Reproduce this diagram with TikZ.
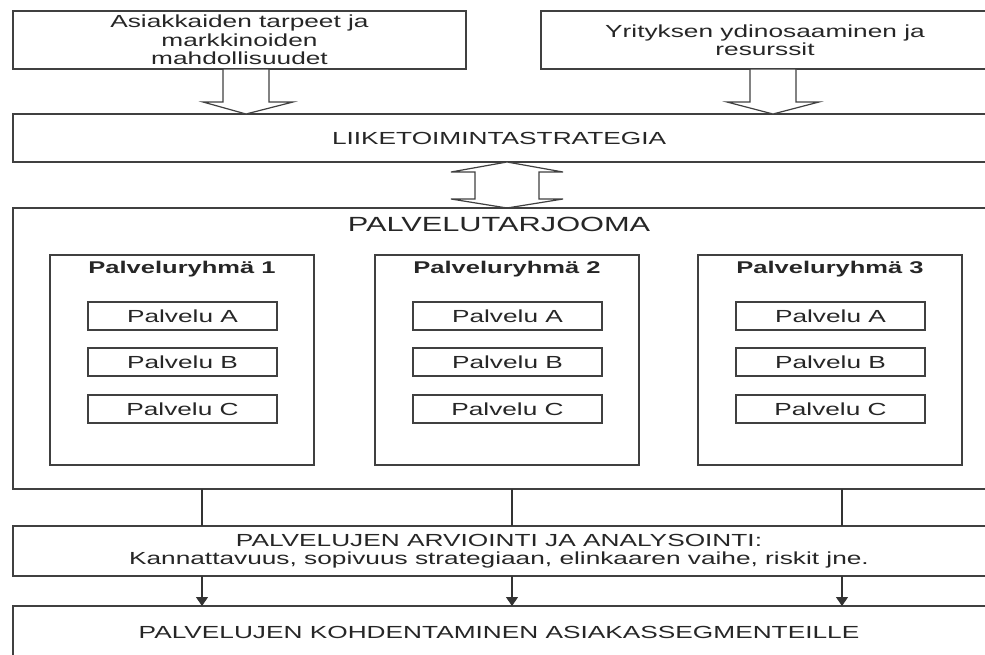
\documentclass[tikz,border=0pt]{standalone}
\usepackage{fontspec}
\setmainfont{Liberation Sans}[FakeStretch=1.5]
\usetikzlibrary{arrows.meta}
\begin{document}
\begin{tikzpicture}[x=1pt,y=-1pt,
  line width=1.2pt,
  every node/.style={inner sep=0pt,outer sep=0pt,text=black!85},
  box/.style={draw=black!75,anchor=north west,align=center},
  txt/.style={font=\fontsize{17.5}{18.5}\selectfont,align=center},
  big/.style={font=\fontsize{20.5}{22}\selectfont},
  gtitle/.style={font=\fontsize{17}{18}\selectfont\bfseries},
  blockarrow/.style={draw=black!75,fill=white,line join=miter},
  link/.style={draw=black!80},
  flow/.style={draw=black!80,-{Triangle[length=9pt,width=12pt]}}]

\useasboundingbox (0,0) rectangle (985,654);
\clip (0,0) rectangle (985,654);

% --- top: inputs ---------------------------------------------------
\node[box,minimum width=453pt,minimum height=58pt] (needs) at (13,11) {};
\node[txt] at (needs.center) {Asiakkaiden tarpeet ja\\markkinoiden\\mahdollisuudet};

\node[box,minimum width=448pt,minimum height=58pt] (core) at (541,11) {};
\node[txt] at (core.center) {Yrityksen ydinosaaminen ja\\resurssit};

% --- strategy --------------------------------------------------------
\node[box,minimum width=975pt,minimum height=48pt] (strat) at (13,114) {};
\node[txt] at (499,138) {LIIKETOIMINTASTRATEGIA};

% hollow arrows into the strategy
\draw[blockarrow] (223,69) -- (269,69) -- (269,102) -- (293,102) -- (246,114)
  -- (203,102) -- (223,102) -- cycle;
\draw[blockarrow] (750,69) -- (796,69) -- (796,102) -- (819,102) -- (773,114)
  -- (727,102) -- (750,102) -- cycle;

% double hollow arrow between strategy and offering
\draw[blockarrow] (507,162) -- (563,172) -- (539,172) -- (539,199) -- (563,199)
  -- (507,208) -- (451,199) -- (475,199) -- (475,172) -- (451,172) -- cycle;

% --- service offering -----------------------------------------------
\node[box,minimum width=975pt,minimum height=281pt] (offer) at (13,208) {};
\node[big] at (499,224) {PALVELUTARJOOMA};

% service groups
\foreach \g/\gx in {1/50,2/375,3/698}{
  \node[box,minimum width=264pt,minimum height=210pt] (grp\g) at (\gx,255) {};
  \node[gtitle] at ([yshift=-14pt]grp\g.north) {Palveluryhmä \g};
  \foreach \s/\sy in {A/47,B/93,C/140}{
    \node[box,minimum width=189pt,minimum height=28pt] (srv\g\s)
      at ([xshift=38pt,yshift=-\sy pt]grp\g.north west) {};
    \node[txt] at (srv\g\s.center) {Palvelu \s};
  }
}

% --- evaluation -----------------------------------------------------
\node[box,minimum width=975pt,minimum height=50pt] (eval) at (13,526) {};
\node[txt] at (499,551) {PALVELUJEN ARVIOINTI JA ANALYSOINTI:\\
  Kannattavuus, sopivuus strategiaan, elinkaaren vaihe, riskit jne.};

% --- targeting --------------------------------------------------------
\node[box,minimum width=975pt,minimum height=60pt] (target) at (13,606) {};
\node[txt] at (499,632) {PALVELUJEN KOHDENTAMINEN ASIAKASSEGMENTEILLE};

% --- connectors -------------------------------------------------------
\foreach \k/\cx in {1/202,2/512,3/842}{
  \coordinate (col\k) at (\cx,0);
  \draw[link] (col\k |- offer.south) -- (col\k |- eval.north);
  \draw[flow] (col\k |- eval.south) -- (col\k |- target.north);
}
\end{tikzpicture}
\end{document}
